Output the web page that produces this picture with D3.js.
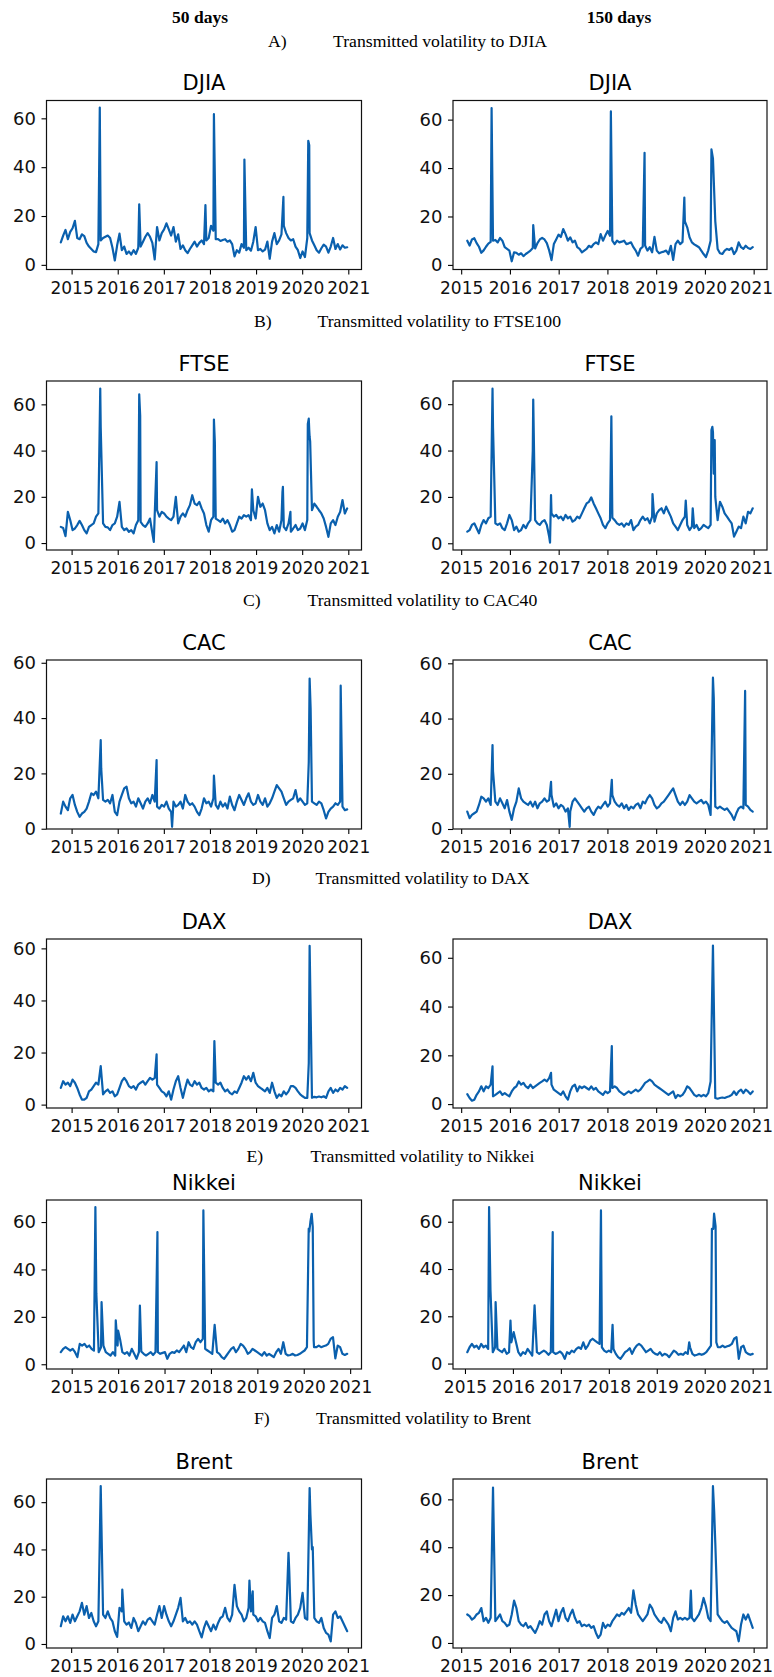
<!DOCTYPE html>
<html><head><meta charset="utf-8">
<script src="https://cdn.jsdelivr.net/npm/d3@7"></script>
<style>
body{margin:0;background:#fff;}
svg{display:block;}
</style></head><body>
<svg id="fig" width="774" height="1677"></svg>
<script>
// ---------------- DATA ----------------
const yearTicks = [2015, 2016, 2017, 2018, 2019, 2020, 2021];
const valueTicks = [0, 20, 40, 60];
const columnHeaders = ["50 days", "150 days"];
const sectionLetters = ["A)", "B)", "C)", "D)", "E)", "F)"];
const sectionTitles = ["Transmitted volatility to DJIA", "Transmitted volatility to FTSE100",
  "Transmitted volatility to CAC40", "Transmitted volatility to DAX",
  "Transmitted volatility to Nikkei", "Transmitted volatility to Brent"];
const panelTitles = ["DJIA", "FTSE", "CAC", "DAX", "Nikkei", "Brent"];

// Each series: first year, sampling interval (years), sampled values, isolated peaks [year, value]
const djia50Start = 2014.766, djia50Step = 0.0509;
const djia50Values = [9.2,12,14.3,10.5,13.5,15,18,11,10.5,12.5,11.8,9,7.5,6.5,5.5,5.2,8.5,10,11,11.5,12,11,7,1.8,8,12.8,6,7.5,4.5,5.5,4.2,6,4.5,7,7.5,9.5,11.5,13,11.5,9,2.2,15.5,10,13,14.5,17,14.5,12,15.5,9.5,12.5,6.5,8,6,4.8,6.5,8,9.5,7.5,9,10,8.5,10,11,16,14,10.5,10.5,9.8,10.2,10.5,9.5,10,8.5,3.5,6,5,8.5,7,6,7,5.8,9.5,15.5,6,6.5,5.5,6.2,9.5,2.5,9.5,13,8.5,10,12.5,16,13,11,10,10.5,7.5,6,2.8,5.5,3.2,11,13,10,8,6,5,6.8,8.3,7.5,5,7.5,11,6.5,8.5,6.3,8,7,7.2];
const djia50Spikes = [[2015.611,64.4],[2016.466,24.8],[2017.902,24.5],[2018.086,61.7],[2018.747,43.1],[2019.593,27.8],[2020.132,50.8],[2020.153,49]];

const djia150Start = 2015.125, djia150Step = 0.048;
const djia150Values = [10,8,10.5,11,9,7.5,5,6,7.5,8.8,9.5,10,10.3,9.3,11.1,10,7.3,6.6,5.9,1.5,5.2,5,4.2,4.8,3.6,4.5,5.2,5.9,7,6.8,9,10.5,11.2,10.5,9,6,2,8.6,10.5,12.5,11.5,14.8,12.7,10,11.4,9.3,10,7.3,6.6,5.2,5.9,6.6,7.9,7.3,8.6,9.3,8.6,12.7,10,12.1,14,12,10,8.6,10,9.3,9.6,10,8.6,8.9,9.3,7.3,5.9,3.8,6.6,7.5,8,5.9,7.3,5.2,11.6,5.9,4.8,5.2,5.5,5.9,4.5,7.9,2.1,8.6,10,8.6,9.5,18,15.5,11.4,9.3,8.5,7.9,7.3,5.9,4.5,3.2,6,10,44,18,6.6,4.8,4.5,5.9,6.6,6.2,7,4.5,5.9,9.3,7.3,6.6,7.9,7,6.6,7.3];
const djia150Spikes = [[2015.624,64.8],[2016.478,16.4],[2018.071,63.4],[2018.762,46.3],[2019.578,27.8],[2020.134,47.7]];

const ftse50Start = 2014.766, ftse50Step = 0.0509;
const ftse50Values = [7,6.5,3,13.5,10,5.6,6.3,7.8,9.6,7.8,5.6,4.2,7,7.8,8.5,11.4,12.8,50,8.5,7,6.8,5.6,7.8,8.5,11.4,17.8,7,5.6,6.3,4.9,5.6,4.2,7.8,9.9,9.2,7.8,7,8.5,10.6,4.2,12.1,14.2,11.4,13.5,12.8,11.4,10.6,9.9,11.4,20,8.5,11.4,12.8,11.4,14.2,16.4,20.7,17.1,16.4,17.8,15,12.8,7.8,4.9,9.9,11.4,10.6,9.9,9.2,10.6,8.5,9.9,7.8,4.9,5.6,8.5,11.4,10.6,12.1,11.4,12.1,9.9,14.2,10.6,20,15.7,17.1,14.2,8.5,5.6,7,4.2,7.8,4.9,9.9,7,5.6,8.5,4.9,6.3,7.8,5.6,6.3,8.5,5.6,10,46,14.2,17.1,15.7,14.2,12.8,10.6,7,2.7,8.5,9.9,7.8,11.4,13.5,18.6,12.8,15];
const ftse50Spikes = [[2015.621,66.8],[2016.466,64.3],[2016.487,55],[2016.782,0.5],[2016.843,35],[2018.086,53.4],[2018.106,43.7],[2018.910,23.2],[2019.572,22],[2019.582,24.3],[2019.745,13.5],[2020.122,51.5],[2020.143,53.8],[2020.153,49],[2020.173,44]];

const ftse150Start = 2015.125, ftse150Step = 0.048;
const ftse150Values = [5,5.7,7.9,8.6,6.5,4.3,7.9,10,8.6,10.8,11.5,50,8.6,7.9,8.6,6.5,5.7,8.6,12.2,10,5.7,7.2,5,5.7,7.9,6.5,8.6,10,40,10,8.6,7.9,9.3,10,7.9,2.9,12.9,11.5,12.2,10.8,11.5,10,12.2,10.8,11.5,9.3,10,11.5,10.8,12.9,15.1,17.2,17.9,19.8,17.2,15.1,12.9,10.8,7.9,6.5,8.6,10,11,10,8.6,7.9,8.6,7.2,8.6,7.9,10,5.7,7.2,7.9,10,11.5,10,10.8,8.6,11.5,9.3,12.9,14.3,15.1,12.9,15.8,13.6,11.5,8.6,7.2,5.7,7.9,10,11.5,7.9,5.7,7.2,6.5,7.9,5.7,6.5,7.9,7.2,6.5,7.9,48,20,10,17.9,15.8,12.9,11.5,10,8.6,2.9,5,7.2,6.5,11.5,8.6,13.6,12.9,15.1];
const ftse150Spikes = [[2015.643,66.7],[2016.478,62],[2016.823,0.3],[2016.843,20.8],[2018.081,54.8],[2018.925,21.2],[2019.607,18.4],[2019.750,15.1],[2020.134,48.8],[2020.153,50.2],[2020.182,30],[2020.201,44.5]];

const cac50Start = 2014.766, cac50Step = 0.0509;
const cac50Values = [5.5,9.8,8,6.7,11,12.2,8.6,6.1,4.3,5.5,6.1,7.3,9.8,12.8,12.2,13.4,11,32,10.4,9.8,10.4,9.2,12.2,6.1,4.9,9.8,12.2,14.6,15.2,11,9.2,9.8,8,11,9.2,7.3,9.8,11,9.2,12.2,9.8,8,7.3,8.6,8,9.8,7.3,6.1,9.8,8,8.6,9.8,7.3,12.2,9.8,8.6,9.2,8,6.1,4.9,7.3,11,9.2,9.8,8,11,8.6,7.3,9.8,8,9.2,7.3,11.6,8.6,6.7,9.8,12.2,10.4,8.6,11,12.8,9.8,8.6,9.2,12.2,9.8,8.6,11,8,9.2,11,13.4,15.8,14.6,13.4,11,8.6,9.8,10.4,11,14,9.8,11,9.8,8.6,9.2,54.3,9.8,9.2,8.6,9.8,9.2,6.7,3.7,6.1,7.3,8,9.2,8.6,9.8,8,6.7,7];
const cac50Spikes = [[2015.642,21.8],[2016.843,24.8],[2017.179,0.7],[2018.086,19.2],[2020.143,24.2],[2020.183,43.5],[2020.835,51.7]];

const cac150Start = 2015.125, cac150Step = 0.048;
const cac150Values = [6.3,3.9,5.1,5.7,6.3,8.7,11.7,11.1,9.9,11.1,8.7,21,9.9,8.7,11.1,9.3,7.5,10.5,6.3,3.3,7.5,9.9,14.7,11.1,9.9,9.3,8.7,9.9,8.1,9.9,7.5,9.3,9.9,11.1,9.9,10.5,12.3,8.1,9.3,7.5,8.7,8.1,6.3,7.5,6.3,9.9,11.1,9.9,8.7,7.5,6.3,7.5,8.1,6.3,5.1,6.9,8.1,7.5,8.7,9.9,8.1,9.3,12.3,9.9,8.7,8.1,9.3,7.5,8.7,6.9,8.1,7.5,8.7,9.3,7.5,9.9,9.3,11.1,12.3,11.1,8.7,7.5,8.1,9.3,9.9,11.1,12.3,13.5,14.7,12.3,9.9,8.7,9.9,8.7,9.9,12.3,11.1,9.9,9.3,9.9,10.5,9.3,9.9,8.7,5.1,54.8,8.1,7.5,8.1,7.5,6.9,7.5,6.3,5.1,3.3,5.7,7.5,8.1,7.5,8.7,8.1,6.9,6.3];
const cac150Spikes = [[2015.643,30.4],[2016.843,17.1],[2017.226,0.8],[2018.090,17.8],[2020.182,47.3],[2020.825,50]];

const dax50Start = 2014.766, dax50Step = 0.0509;
const dax50Values = [6.4,9,7.7,8.4,7.1,9.6,8.4,6.4,3.9,1.9,1.9,2.6,5.1,5.8,7.1,8.4,7.7,14.8,3.9,5.1,5.8,4.5,5.1,3.2,3.9,6.4,9,10.3,9,7.1,6.4,7.1,5.8,7.7,8.4,9,7.7,9,10.3,9.6,10.3,7.7,6.4,5.1,4.5,3.2,5.1,1.9,5.8,9,10.9,6.4,2.6,6.4,9.6,7.7,7.1,9,7.7,8.4,6.4,5.8,6.4,5.1,5.8,5.1,8.4,7.7,8.4,6.4,5.1,5.8,4.5,3.9,5.1,4.5,6.4,8.4,10.9,9.6,10.9,9,12.2,8.4,7.1,6.4,5.8,5.1,6.4,4.5,8.4,5.1,2.6,3.9,3.2,5.1,3.9,5.1,7.1,7.1,6.4,5.1,3.9,3.2,2.6,2.6,61,2.6,3,2.8,3.1,2.8,3.2,2.6,5.1,6.4,4.5,5.8,5.1,6.4,5.8,7.1,6.4];
const dax50Spikes = [[2016.843,19.3],[2018.096,24.4],[2020.143,16]];

const dax150Start = 2015.125, dax150Step = 0.048;
const dax150Values = [4.1,2.5,1.4,1.8,3.8,5.2,7.3,5.2,7.3,6.6,8,3.2,3.8,4.5,5.2,3.8,4.5,3.8,3.2,5.2,6.6,7.3,9.3,8,8.7,7.3,6.6,8,6.6,7.3,8,8.7,9.3,10,9.3,10.7,8,5.9,5.2,4.5,3.8,5.2,3.2,1.8,5.2,7.3,8,5.2,7.3,6.6,7.3,6.6,5.9,7.3,5.9,6.6,5.2,4.5,3.8,5.2,4.5,5.2,6.6,7.3,6.6,5.2,4.5,3.8,4.5,5.2,4.5,5.2,5.9,5.2,5.9,7.3,8.7,9.3,10,9.3,8,7.3,6.6,5.9,5.2,4.5,3.8,4.5,5.2,2.5,3.8,3.2,3.8,5.2,7.3,6.6,5.2,3.8,3.2,3.8,3.2,3.8,3.2,4.5,9.3,65,2.5,2.2,2.5,2.7,2.5,2.9,3.2,3.8,5.2,3.8,5.2,5.9,4.5,5.9,5.2,4.1,5.2];
const dax150Spikes = [[2015.643,15.5],[2016.843,12.8],[2018.090,23.8]];

const nikkei50Start = 2014.765, nikkei50Step = 0.051;
const nikkei50Values = [5.1,6.5,7.2,6.5,5.8,6.5,5.1,3,8.6,7.9,8.6,7.2,7.9,6.5,5.8,30,5.1,7.2,7.9,5.1,4.4,3.7,5.1,3.7,7.9,10.7,5.1,4.4,5.1,3.7,6.5,4.4,2.3,5.1,5.4,4.4,3.7,4.4,5.1,3.9,5.1,5.1,4.4,4.8,5.1,2.3,4.4,5.1,4.8,5.8,5.1,6.5,7.9,5.1,9.3,7.2,6.5,9.3,10.7,9.3,10.7,6.5,5.8,5.1,4.4,16.6,5.1,4.4,3,2.3,3.7,5.1,6.5,7.2,5.1,6.5,8.6,7.9,6.5,4.4,5.1,6.5,5.8,5.1,4.4,3.7,5.1,3.7,4.4,3.7,3,5.1,6.5,4.4,9.3,4.4,3.7,3.9,4.4,3.7,3.9,4.4,5.1,5.8,7.2,56,63.5,7.2,7.2,7.9,7.2,7.6,7.9,8.6,10.7,11.4,2.5,7.9,7.2,4.4,3.9,4.4];
const nikkei50Spikes = [[2015.510,66.3],[2015.643,26.2],[2015.949,18.5],[2015.999,14.2],[2016.469,24.8],[2016.847,55.8],[2017.837,64.9],[2020.107,57.2],[2020.143,60],[2020.194,58],[2020.214,10]];

const nikkei150Start = 2015.048, nikkei150Step = 0.0484;
const nikkei150Values = [4.8,6.9,8.3,6.9,7.6,6.2,8.3,6.9,7.6,6.2,31,4.8,6.9,6.2,5.5,4.8,6.2,4.1,4.8,9,13.3,9,4.8,3.4,4.8,4.1,6.2,4.8,3.4,24.6,4.8,4.1,4.8,5.5,4.8,3.7,4.8,4.8,4.1,4.5,5.1,4.1,2,4.8,4.1,5.5,4.8,6.2,6.9,6.2,9,6.2,7.6,9.7,10.5,9.7,9,8.3,6.9,5.5,4.8,5.5,4.8,6.2,4.1,2.7,2,3.4,4.8,5.5,6.5,4.1,6.2,7.6,8.3,7.6,6.2,4.8,5.5,6.2,4.8,4.1,3.7,4.8,3.4,4.1,3.7,2.7,4.1,5.5,4.8,3.7,4.1,3.7,4.8,4.1,6.9,4.1,3.4,3.7,4.1,3.7,4.1,4.8,6.2,7.6,57,58,6.9,6.9,7.6,6.9,7.3,7.6,8.3,10.5,11.2,2,6.9,7.6,4.8,4.1,3.7,4.1];
const nikkei150Spikes = [[2015.503,66.2],[2015.639,26],[2015.949,18.2],[2016.830,55.6],[2017.836,64.8],[2018.078,16.4],[2019.676,9],[2020.150,57],[2020.195,63.4],[2020.242,9]];

const brent50Start = 2014.776, brent50Step = 0.0509;
const brent50Values = [7.5,11.7,9.6,11.7,8.9,12.4,9.6,11.7,13.8,17.4,12.4,16,11,13.1,9.6,7.5,9.6,66.8,12.4,11,13.8,11,9.6,5.4,3,15.3,13.8,9.6,8.2,9.1,6.8,11,8.9,5.4,7.5,9.6,8.2,10.3,11,9.6,8.2,12.4,16,11,16,12.4,9.6,7.5,9.6,12.4,15.3,19.5,9.6,11,8.9,9.6,8.2,9.6,8.2,5.4,2.8,6.8,9.6,7.5,5.4,8.2,6.1,8.9,11,11.7,15.3,11,9.6,12.4,25,16,13.8,12.4,9.6,11,15.3,13.8,12.4,11.7,9.6,11,9.6,8.9,5.4,2.5,11,12.4,16,9.6,8.9,11,10.3,38.6,9.6,8.9,11,12.4,15.3,21.6,11,10.3,66,40,11,9.6,8.9,11,6.8,4.7,4,1.1,12.4,13.8,11,11.7,9.6,7.5,5.4];
const brent50Spikes = [[2016.109,23],[2018.866,26.8],[2018.937,22.3],[2019.730,30.8],[2020.188,55],[2020.239,41]];

const brent150Start = 2015.125, brent150Step = 0.048;
const brent150Values = [11.9,11.2,9.8,10.5,11.9,12.6,14.6,9.1,10.5,8.4,10.5,64.9,9.1,10.5,11.9,9.1,8.4,7,7.7,11.9,17.7,14.6,9.1,7.7,7,8.4,6.3,7,5.6,4.2,6.3,9.1,7.7,11.9,13.2,9.1,7,10.5,13.9,9.1,12.6,14.6,10.5,9.1,11.9,13.9,10.5,8.4,9.1,7,7.7,7,7.7,6.3,7,4.2,2.1,3.5,8.4,6.3,7.7,7,9.1,10.5,11.9,11.2,12.6,11.9,13.2,14.6,12.6,22,16,11.9,10.5,9.1,10.5,11.9,16,14.6,11.9,10.5,9.1,8.4,10.5,9.1,7.7,4.9,10.5,13.2,9.8,10.5,9.8,10.5,9.8,10.5,10.5,9.1,10.5,11.9,14.6,18.8,15.3,10.5,9.1,65.5,41.8,11.9,10.5,9.1,8.4,9.1,7.7,6.3,5.6,4.9,0.7,7.7,11.9,9.8,11.9,9.1,6.3];
const brent150Spikes = [[2019.712,21.9],[2020.19,55]];

// y-axis ranges (rows A-F, columns 50 / 150 days)
const yRanges50 = [[-1.9, 67.3], [-3.0, 70.1], [-0.1, 61.0], [-1.3, 63.6], [-2.0, 69.3], [-1.7, 69.8]];
const yRanges150 = [[-1.9, 67.9], [-2.9, 70.0], [0.0, 61.2], [-1.6, 67.7], [-2.3, 69.2], [-2.1, 68.5]];

// ---------------- TABLE ----------------
const rowsData = [
  [[djia50Start, djia50Step, djia50Values, djia50Spikes], [djia150Start, djia150Step, djia150Values, djia150Spikes]],
  [[ftse50Start, ftse50Step, ftse50Values, ftse50Spikes], [ftse150Start, ftse150Step, ftse150Values, ftse150Spikes]],
  [[cac50Start, cac50Step, cac50Values, cac50Spikes], [cac150Start, cac150Step, cac150Values, cac150Spikes]],
  [[dax50Start, dax50Step, dax50Values, dax50Spikes], [dax150Start, dax150Step, dax150Values, dax150Spikes]],
  [[nikkei50Start, nikkei50Step, nikkei50Values, nikkei50Spikes], [nikkei150Start, nikkei150Step, nikkei150Values, nikkei150Spikes]],
  [[brent50Start, brent50Step, brent50Values, brent50Spikes], [brent150Start, brent150Step, brent150Values, brent150Spikes]]
];

// ---------------- LAYOUT ----------------
const colX = [[46.5, 361.5], [453, 767]];
const rowTop = [100.5, 381, 660, 939, 1200, 1479];
const boxH = 169;
const headerBase = [46.5, 327, 605.5, 884, 1162, 1424];
const letterX = [268, 254, 243, 252, 246.5, 254];
const textX = [333, 317.5, 307.5, 315.5, 310.5, 316];
const colHeaderX = [200, 619];
const LINE = "#0a60ae";
const SANS = "'DejaVu Sans', sans-serif";
const SERIF = "'Liberation Serif', 'Times New Roman', serif";
const PAGE_W = 774;

const svg = d3.select("#fig");
svg.append("rect").attr("width", 774).attr("height", 1677).attr("fill", "#fff");

columnHeaders.forEach((t, i) => {
  svg.append("text").attr("x", colHeaderX[i]).attr("y", 22.5)
    .attr("text-anchor", "middle").attr("font-family", SERIF)
    .attr("font-weight", "bold").attr("font-size", 17.5).attr("fill", "#000").text(t);
});

sectionLetters.forEach((l, r) => {
  svg.append("text").attr("x", letterX[r]).attr("y", headerBase[r])
    .attr("font-family", SERIF).attr("font-size", 17.7).attr("fill", "#000").text(l);
  svg.append("text").attr("x", textX[r]).attr("y", headerBase[r])
    .attr("font-family", SERIF).attr("font-size", 17.7).attr("fill", "#000").text(sectionTitles[r]);
});

rowsData.forEach((pair, r) => {
  pair.forEach((s, c) => {
    const [start, step, values, spikes] = s;
    const pts = values.map((v, i) => [start + i * step, v]).concat(spikes)
      .sort((a, b) => a[0] - b[0]);
    const ext = d3.extent(pts, d => d[0]);
    const pad = (ext[1] - ext[0]) * 0.05;
    const [x0, x1] = colX[c];
    const top = rowTop[r], bot = rowTop[r] + boxH;
    const x = d3.scaleLinear().domain([ext[0] - pad, ext[1] + pad]).range([x0, x1]);
    const yd = (c === 0 ? yRanges50 : yRanges150)[r];
    const y = d3.scaleLinear().domain(yd).range([bot, top]);

    const g = svg.append("g");
    const clipId = `clip${r}${c}`;
    g.append("clipPath").attr("id", clipId).append("rect")
      .attr("x", x0).attr("y", top).attr("width", x1 - x0).attr("height", boxH);

    g.append("path").datum(pts)
      .attr("clip-path", `url(#${clipId})`)
      .attr("fill", "none").attr("stroke", LINE).attr("stroke-width", 2.2)
      .attr("stroke-linejoin", "round").attr("stroke-linecap", "round")
      .attr("d", d3.line().x(d => x(d[0])).y(d => y(d[1])));

    const ya = g.append("g").attr("transform", `translate(${x0},0)`)
      .call(d3.axisLeft(y).tickValues(valueTicks.filter(v => v >= yd[0] - 0.5 && v <= yd[1] + 0.5))
        .tickSize(5).tickPadding(5.5).tickFormat(d3.format("d")));
    const xa = g.append("g").attr("transform", `translate(0,${bot})`)
      .call(d3.axisBottom(x).tickValues(yearTicks).tickSize(5).tickPadding(7).tickFormat(d3.format("d")));
    [ya, xa].forEach(a => {
      a.select(".domain").remove();
      a.selectAll("line").attr("stroke", "#000").attr("stroke-width", 1.1);
      a.selectAll("text").attr("font-family", SANS).attr("fill", "#111");
    });
    ya.selectAll("text").attr("font-size", 18);
    xa.selectAll("text").attr("font-size", 17);
    // keep the last year label inside the page
    xa.selectAll(".tick text").each(function () {
      const b = this.getBBox();
      const tx = x(+this.textContent);
      const right = tx + b.x + b.width;
      if (right > PAGE_W - 1.5) d3.select(this).attr("dx", -(right - (PAGE_W - 1.5)));
    });

    g.append("rect").attr("x", x0).attr("y", top).attr("width", x1 - x0).attr("height", boxH)
      .attr("fill", "none").attr("stroke", "#111").attr("stroke-width", 1.2);

    g.append("text").attr("x", (x0 + x1) / 2).attr("y", top - 10.5)
      .attr("text-anchor", "middle").attr("font-family", SANS).attr("font-size", 21)
      .attr("fill", "#000").text(panelTitles[r]);
  });
});
</script>
</body></html>
